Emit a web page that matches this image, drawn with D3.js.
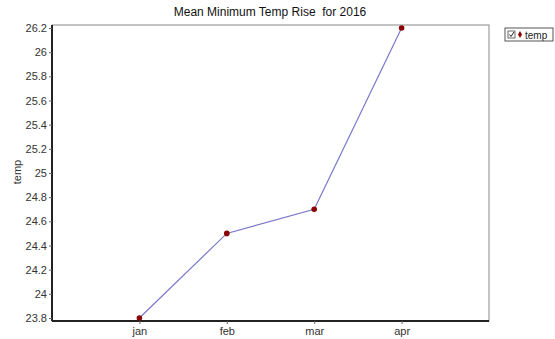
<!DOCTYPE html>
<html><head><meta charset="utf-8">
<script src="https://cdn.jsdelivr.net/npm/d3@7"></script>
<style>body{margin:0;background:#fff;}svg{display:block;font-family:Arial,"Liberation Sans",sans-serif;}</style>
</head><body>
<svg id="c" width="555" height="339"></svg>
<script>
const categories = ["jan","feb","mar","apr"];
const temp = [23.8, 24.5, 24.7, 26.2];
const yTicks = [23.8,24,24.2,24.4,24.6,24.8,25,25.2,25.4,25.6,25.8,26,26.2];
const title = "Mean Minimum Temp Rise  for 2016";
const seriesName = "temp";

const svg = d3.select("#c");
const L = 52, R = 489, T = 25, B = 321;
const x = d3.scalePoint().domain(["", ...categories, " "]).range([L, R]);
const y = d3.scaleLinear().domain([23.8, 26.2]).range([318, 28]);

// frame
svg.append("rect").attr("x", L).attr("y", T).attr("width", R-L).attr("height", B-T)
  .attr("fill", "#fff").attr("stroke", "#888").attr("stroke-width", 1);

// y axis
const ya = svg.append("g").attr("transform", `translate(${L},0)`)
  .call(d3.axisLeft(y).tickValues(yTicks).tickSize(3).tickFormat(d => d3.format("")(+d.toFixed(1))));
ya.select(".domain").attr("d", `M0,${T}V${B}`).attr("stroke", "#222").attr("stroke-width", 2);
ya.selectAll(".tick line").attr("stroke", "#666");
ya.selectAll(".tick text").attr("fill", "#333").attr("font-size", 11).attr("x", -5);

// x axis
const xa = svg.append("g").attr("transform", `translate(0,${B})`)
  .call(d3.axisBottom(x).tickValues(categories).tickSize(3));
xa.select(".domain").attr("d", `M${L},0H${R}`).attr("stroke", "#222").attr("stroke-width", 2);
xa.selectAll(".tick line").attr("stroke", "#666");
xa.selectAll(".tick text").attr("fill", "#333").attr("font-size", 11).attr("y", 6);

// line
const line = d3.line().x((d,i) => x(categories[i])).y(d => y(d));
svg.append("path").datum(temp).attr("d", line).attr("fill", "none")
  .attr("stroke", "#7a78c8").attr("stroke-width", 1.2);
svg.selectAll("circle.pt").data(temp).join("circle").attr("class","pt")
  .attr("cx", (d,i) => x(categories[i])).attr("cy", d => y(d)).attr("r", 2.8)
  .attr("fill", "#8b0000");

// title
svg.append("text").attr("x", 270).attr("y", 16).attr("text-anchor", "middle")
  .style("white-space", "pre").attr("xml:space", "preserve")
  .attr("font-size", 12).attr("fill", "#111").text(title);

// y label
svg.append("text").attr("transform", "translate(21,172) rotate(-90)")
  .attr("text-anchor", "middle").attr("font-size", 11).attr("fill", "#333").text(seriesName);

// legend
const lg = svg.append("g").attr("transform", "translate(505,28)");
lg.append("rect").attr("x", 0).attr("y", 0).attr("width", 48).attr("height", 13)
  .attr("fill", "#fff").attr("stroke", "#555");
lg.append("rect").attr("x", 3).attr("y", 3).attr("width", 7).attr("height", 7)
  .attr("fill", "#fff").attr("stroke", "#444").attr("stroke-width", 0.8);
lg.append("path").attr("d", "M4.5,6.5L6,8.5L9,4").attr("fill", "none").attr("stroke", "#222").attr("stroke-width", 1);
lg.append("path").attr("d", d3.symbol(d3.symbolDiamond, 14)()).attr("transform", "translate(15,6.5)").attr("fill", "#8b0000");
lg.append("text").attr("x", 20).attr("y", 10.5).attr("font-size", 10).attr("fill", "#222").text(seriesName);
</script>
</body></html>
